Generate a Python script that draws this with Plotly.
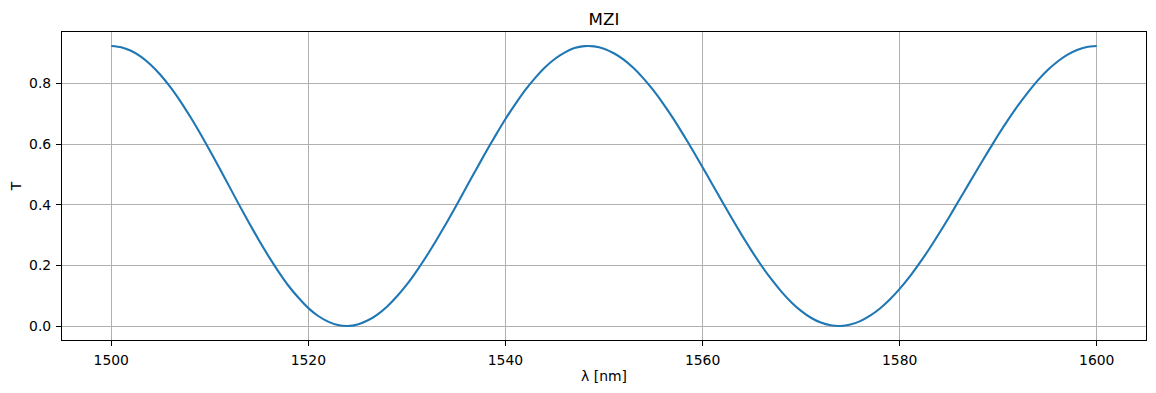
import plotly.graph_objects as go

# Wavelength [nm] and transmission T (1 nm steps)
wavelength = list(range(1500, 1601))
transmission = [
    0.924, 0.920, 0.908, 0.889, 0.862, 0.828, 0.788, 0.742, 0.691, 0.637,   # 1500-1509
    0.579, 0.520, 0.459, 0.398, 0.339, 0.282, 0.228, 0.178, 0.132, 0.093,   # 1510-1519
    0.059, 0.033, 0.0145, 0.0032, 0.0001, 0.0053, 0.0180, 0.0378, 0.0646, 0.0979,  # 1520-1529
    0.137, 0.182, 0.231, 0.284, 0.339, 0.397, 0.456, 0.515, 0.573, 0.629,   # 1530-1539
    0.683, 0.732, 0.778, 0.818, 0.853, 0.881, 0.902, 0.917, 0.9234, 0.9227, # 1540-1549
    0.915, 0.900, 0.879, 0.851, 0.817, 0.778, 0.734, 0.686, 0.634, 0.580,   # 1550-1559
    0.524, 0.467, 0.410, 0.354, 0.299, 0.247, 0.198, 0.1535, 0.1135, 0.0786, # 1560-1569
    0.0498, 0.0272, 0.0112, 0.0022, 0.0002, 0.0049, 0.0162, 0.0340, 0.0578, 0.0875, # 1570-1579
    0.1225, 0.162, 0.2065, 0.254, 0.305, 0.358, 0.413, 0.468, 0.523, 0.577, # 1580-1589
    0.630, 0.680, 0.727, 0.770, 0.8095, 0.8435, 0.8717, 0.8945, 0.9107, 0.9207, # 1590-1599
    0.924,                                                                    # 1600
]

x_ticks = [1500, 1520, 1540, 1560, 1580, 1600]
y_ticks = [0.0, 0.2, 0.4, 0.6, 0.8]

FONT = "DejaVu Sans"

fig = go.Figure()
fig.add_trace(go.Scatter(
    x=wavelength, y=transmission, mode="lines",
    line=dict(color="#1f77b4", width=2.1, shape="spline", smoothing=0.6),
    showlegend=False, hoverinfo="x+y",
))

axis_common = dict(
    showgrid=True, gridcolor="#b0b0b0", gridwidth=1.1,
    showline=True, linecolor="black", linewidth=1.1, mirror=True,
    ticks="outside", ticklen=5, tickwidth=1.1, tickcolor="black",
    zeroline=False, ticklabelstandoff=2, automargin=False,
    tickfont=dict(family=FONT, size=13.9, color="black"),
)

H = 385
fig.update_layout(
    width=1148, height=H,
    margin=dict(l=54, r=10, t=24, b=53),
    paper_bgcolor="white", plot_bgcolor="white",
    title=dict(text="MZI", x=0.5, xref="paper", xanchor="center",
               y=1 - 11 / H, yref="container", yanchor="middle",
               font=dict(family=FONT, size=16.7, color="black")),
    xaxis=dict(range=[1495, 1605], tickvals=x_ticks,
               title=dict(text="λ [nm]", standoff=4,
                          font=dict(family=FONT, size=13.9, color="black")),
               **axis_common),
    yaxis=dict(range=[-0.0462, 0.970], tickvals=y_ticks, tickformat=".1f",
               title=dict(text="T", standoff=6,
                          font=dict(family=FONT, size=13.9, color="black")),
               **axis_common),
)

fig.write_html("out.html")
